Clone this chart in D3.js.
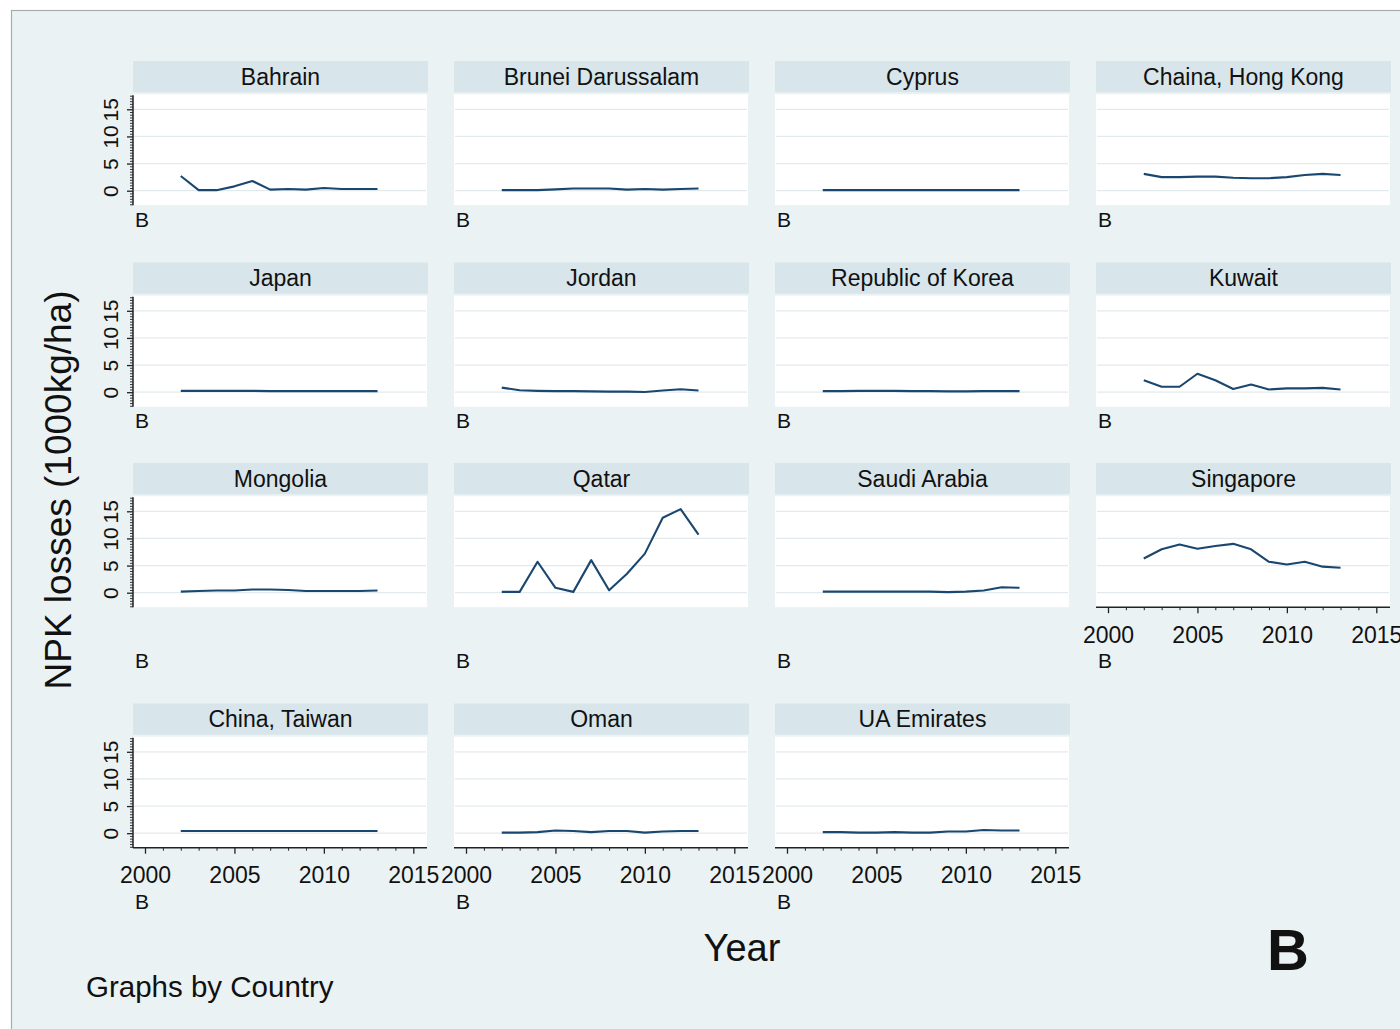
<!DOCTYPE html>
<html>
<head>
<meta charset="utf-8">
<script src="https://cdn.jsdelivr.net/npm/d3@7/dist/d3.min.js"></script>
<style>
  html, body { margin: 0; padding: 0; background: #ffffff; }
  svg text { font-family: "Liberation Sans", Arial, Helvetica, sans-serif; fill: #111; }
</style>
</head>
<body>
<svg id="chart" width="1400" height="1029"></svg>
<script>
// NPK losses by country, 2002-2013 (1000 kg/ha)
const years = [2002, 2003, 2004, 2005, 2006, 2007, 2008, 2009, 2010, 2011, 2012, 2013];

const countries = [
  "Bahrain", "Brunei Darussalam", "Cyprus", "Chaina, Hong Kong",
  "Japan", "Jordan", "Republic of Korea", "Kuwait",
  "Mongolia", "Qatar", "Saudi Arabia", "Singapore",
  "China, Taiwan", "Oman", "UA Emirates"
];

const bahrain   = [2.7, 0.1, 0.1, 0.8, 1.8, 0.2, 0.3, 0.2, 0.5, 0.3, 0.3, 0.3];
const brunei    = [0.1, 0.1, 0.1, 0.25, 0.4, 0.4, 0.4, 0.2, 0.3, 0.2, 0.3, 0.4];
const cyprus    = [0.1, 0.1, 0.1, 0.1, 0.1, 0.1, 0.1, 0.1, 0.1, 0.1, 0.1, 0.1];
const hongKong  = [3.1, 2.5, 2.5, 2.6, 2.6, 2.4, 2.3, 2.3, 2.5, 2.9, 3.1, 2.9];
const japan     = [0.25, 0.25, 0.25, 0.25, 0.25, 0.2, 0.2, 0.2, 0.2, 0.2, 0.2, 0.2];
const jordan    = [0.85, 0.35, 0.25, 0.2, 0.2, 0.15, 0.1, 0.1, 0.05, 0.3, 0.55, 0.3];
const korea     = [0.2, 0.2, 0.25, 0.25, 0.25, 0.2, 0.2, 0.15, 0.15, 0.2, 0.2, 0.2];
const kuwait    = [2.2, 1.0, 1.0, 3.4, 2.2, 0.6, 1.4, 0.5, 0.7, 0.7, 0.8, 0.5];
const mongolia  = [0.2, 0.3, 0.4, 0.4, 0.6, 0.6, 0.5, 0.3, 0.3, 0.3, 0.3, 0.4];
const qatar     = [0.15, 0.15, 5.7, 0.9, 0.15, 6.0, 0.45, 3.5, 7.2, 13.8, 15.4, 10.7];
const saudi     = [0.2, 0.2, 0.2, 0.2, 0.2, 0.2, 0.2, 0.1, 0.2, 0.4, 1.0, 0.9];
const singapore = [6.3, 8.0, 8.9, 8.1, 8.6, 9.0, 8.0, 5.7, 5.2, 5.7, 4.8, 4.6];
const taiwan    = [0.4, 0.4, 0.4, 0.4, 0.4, 0.4, 0.4, 0.4, 0.4, 0.4, 0.4, 0.4];
const oman      = [0.1, 0.1, 0.2, 0.5, 0.4, 0.2, 0.4, 0.4, 0.1, 0.3, 0.4, 0.4];
const uae       = [0.2, 0.2, 0.1, 0.1, 0.2, 0.1, 0.1, 0.3, 0.3, 0.6, 0.5, 0.5];

const seriesValues = [
  bahrain, brunei, cyprus, hongKong,
  japan, jordan, korea, kuwait,
  mongolia, qatar, saudi, singapore,
  taiwan, oman, uae
];

const yTickValues = [0, 5, 10, 15];
const xTickValues = [2000, 2005, 2010, 2015];
const panelNote = "B";

// ---- layout ----
const svg = d3.select("#chart");
const colX = [133, 454, 775, 1096];          // left edge of each column's plot region
const rowZero = [190.7, 392.2, 592.7, 833.2]; // pixel position of y = 0 in each row
const plotW = 294;
const nCols = 4;
const lineColor = "#1a476f";
const gridColor = "#e3eaed";
const axisColor = "#222";

// graph region frame
svg.append("rect")
  .attr("x", 11.5).attr("y", 10.5)
  .attr("width", 1400).attr("height", 1040)
  .attr("fill", "#eaf2f3")
  .attr("stroke", "#a9adb0").attr("stroke-width", 1.2);

const lastInColumn = i => i + nCols >= countries.length;
const rowHasAxis = r => countries.some((c, i) => Math.floor(i / nCols) === r && lastInColumn(i));

countries.forEach((name, i) => {
  const row = Math.floor(i / nCols), col = i % nCols;
  const x0 = colX[col], zero = rowZero[row];
  const g = svg.append("g");

  const x = d3.scaleLinear().domain([2000, 2015]).range([x0 + 12, x0 + 280.3]);
  const y = d3.scaleLinear().domain([0, 15]).range([zero, zero - 81.4]);

  const top = zero - 96.5, bottom = zero + 14.5;

  // title strip
  g.append("rect")
    .attr("x", x0).attr("y", zero - 129.7)
    .attr("width", plotW + 1).attr("height", 31.2)
    .attr("fill", "#d8e5ea");
  g.append("text")
    .attr("x", x0 + (plotW + 1) / 2).attr("y", zero - 106)
    .attr("text-anchor", "middle")
    .style("font-size", "23px")
    .text(name);

  // plot region
  g.append("rect")
    .attr("x", x0).attr("y", top)
    .attr("width", plotW).attr("height", bottom - top)
    .attr("fill", "#ffffff");

  // gridlines
  g.selectAll("line.grid").data(yTickValues).join("line")
    .attr("class", "grid")
    .attr("x1", x0 + 1).attr("x2", x0 + plotW - 1)
    .attr("y1", d => y(d)).attr("y2", d => y(d))
    .attr("stroke", gridColor).attr("stroke-width", 1.2);

  // series line
  const line = d3.line().x((d, k) => x(years[k])).y(d => y(d));
  g.append("path")
    .datum(seriesValues[i])
    .attr("d", line)
    .attr("fill", "none")
    .attr("stroke", lineColor)
    .attr("stroke-width", 2.1)
    .attr("stroke-linejoin", "round");

  // y axis on the first column
  if (col === 0) {
    const yAxisG = g.append("g").attr("transform", `translate(${x0},0)`);
    const minor = d3.range(-2.5, 18, 0.5).filter(v => !yTickValues.includes(v));
    yAxisG.append("g")
      .call(d3.axisLeft(y).tickValues(minor).tickSize(3).tickFormat(""))
      .call(s => s.select(".domain").remove())
      .call(s => s.selectAll("line").attr("stroke", axisColor).attr("stroke-width", 0.9));
    yAxisG.append("g")
      .call(d3.axisLeft(y).tickValues(yTickValues).tickSize(6))
      .call(s => s.select(".domain").remove())
      .call(s => s.selectAll("line").attr("stroke", axisColor).attr("stroke-width", 1.3))
      .call(s => s.selectAll("text")
        .attr("x", null).attr("dy", null)
        .attr("transform", "translate(-15,0) rotate(-90)")
        .attr("text-anchor", "middle")
        .style("font-size", "21px")
        .style("font-family", "'Liberation Sans', Arial, sans-serif")
        .attr("fill", "#111"));
    yAxisG.append("line")
      .attr("x1", 0).attr("x2", 0)
      .attr("y1", top + 1).attr("y2", bottom)
      .attr("stroke", axisColor).attr("stroke-width", 1.5);
  }

  // x axis below the last panel of each column
  if (lastInColumn(i)) {
    const xAxisG = g.append("g").attr("transform", `translate(0,${bottom})`);
    xAxisG.append("g")
      .call(d3.axisBottom(x).tickValues(d3.range(2000, 2016).filter(v => !xTickValues.includes(v))).tickSize(3).tickFormat(""))
      .call(s => s.select(".domain").remove())
      .call(s => s.selectAll("line").attr("stroke", axisColor).attr("stroke-width", 1));
    xAxisG.append("g")
      .call(d3.axisBottom(x).tickValues(xTickValues).tickSize(6).tickFormat(d3.format("d")))
      .call(s => s.select(".domain").remove())
      .call(s => s.selectAll("line").attr("stroke", axisColor).attr("stroke-width", 1.3))
      .call(s => s.selectAll("text")
        .attr("y", 35.5).attr("dy", null)
        .style("font-size", "23px")
        .style("font-family", "'Liberation Sans', Arial, sans-serif")
        .attr("fill", "#111"));
    xAxisG.append("line")
      .attr("x1", x0).attr("x2", x0 + plotW)
      .attr("y1", 0).attr("y2", 0)
      .attr("stroke", axisColor).attr("stroke-width", 1.5);
  }

  // panel note
  g.append("text")
    .attr("x", x0 + 2)
    .attr("y", zero + (rowHasAxis(row) ? 75.5 : 36))
    .style("font-size", "21px")
    .text(panelNote);
});

// axis titles
svg.append("text")
  .attr("transform", "translate(71,490) rotate(-90)")
  .attr("text-anchor", "middle")
  .style("font-size", "37px")
  .text("NPK losses (1000kg/ha)");

svg.append("text")
  .attr("x", 742).attr("y", 961)
  .attr("text-anchor", "middle")
  .style("font-size", "38px")
  .text("Year");

svg.append("text")
  .attr("x", 86).attr("y", 997)
  .style("font-size", "29.5px")
  .text("Graphs by Country");

svg.append("text")
  .attr("x", 1267).attr("y", 970)
  .style("font-size", "58px")
  .style("font-weight", "bold")
  .text("B");
</script>
</body>
</html>
